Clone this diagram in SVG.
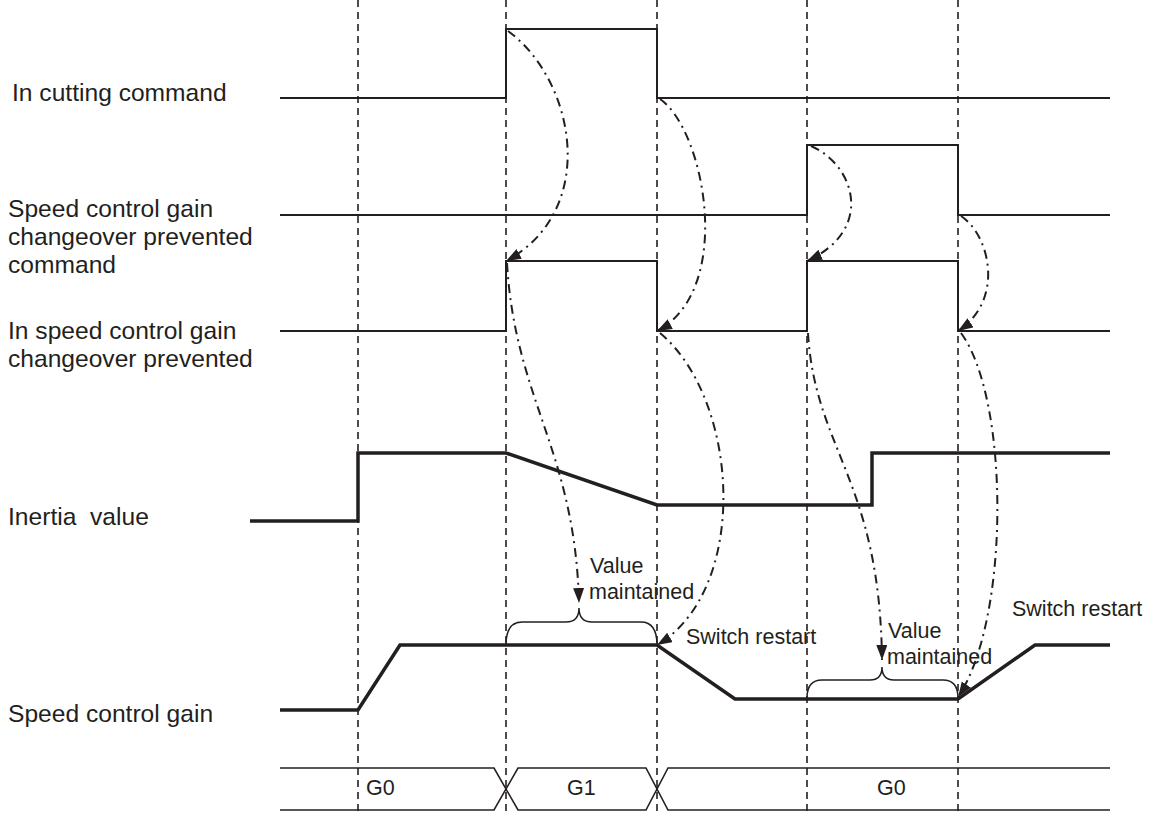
<svg xmlns="http://www.w3.org/2000/svg" width="1157" height="816" viewBox="0 0 1157 816">
<style>
.lbl{font-family:"Liberation Sans",Arial,sans-serif;font-size:24.6px;fill:#231f20}
.sm{font-family:"Liberation Sans",Arial,sans-serif;font-size:21.5px;fill:#231f20}
.grid{stroke:#231f20;stroke-width:1.6;stroke-dasharray:7 5;fill:none}
.sig{stroke:#231f20;stroke-width:2;fill:none}
.thick{stroke:#231f20;stroke-width:3.5;fill:none;stroke-linejoin:miter}
.bus{stroke:#231f20;stroke-width:1.6;fill:none}
.dd{stroke:#231f20;stroke-width:2;fill:none;stroke-dasharray:9 5 2 5}
.brace{stroke:#231f20;stroke-width:1.5;fill:none}
</style>
<defs>
<marker id="ah" markerUnits="userSpaceOnUse" markerWidth="16" markerHeight="12" refX="15" refY="5.5" orient="auto">
<path d="M0,0 L15,5.5 L0,11 z" fill="#231f20"/>
</marker>
</defs>
<g id="grid">
<line class="grid" x1="358" y1="0" x2="358" y2="816"/>
<line class="grid" x1="506" y1="0" x2="506" y2="816"/>
<line class="grid" x1="657" y1="0" x2="657" y2="816"/>
<line class="grid" x1="807" y1="0" x2="807" y2="816"/>
<line class="grid" x1="958" y1="0" x2="958" y2="816"/>
</g>
<g id="cutting">
<text class="lbl" x="12" y="101">In cutting command</text>
<path class="sig" d="M280,98 H506 V29 H657 V98 H1110"/>
</g>
<g id="prevent-cmd">
<text class="lbl" x="8" y="217">Speed control gain</text>
<text class="lbl" x="8" y="245">changeover prevented</text>
<text class="lbl" x="8" y="273">command</text>
<path class="sig" d="M280,215 H807 V145 H958 V215 H1110"/>
</g>
<g id="prevented">
<text class="lbl" x="8" y="339">In speed control gain</text>
<text class="lbl" x="8" y="367">changeover prevented</text>
<path class="sig" d="M280,331 H506 V261 H657 V331 H807 V261 H958 V331 H1110"/>
</g>
<g id="inertia">
<text class="lbl" x="8" y="525" xml:space="preserve">Inertia  value</text>
<path class="thick" d="M250,521 H358 V453 H506 L657,505 H872 V453 H1110"/>
</g>
<g id="gain">
<text class="lbl" x="8" y="722">Speed control gain</text>
<path class="thick" d="M280,710 H358 L400,645 H657 L735,699 H958 L1035,645 H1110"/>
</g>
<g id="bus">
<path class="bus" d="M280,768 H494 L518,810 H646 L668,768 H1110"/>
<path class="bus" d="M280,810 H494 L518,768 H646 L668,810 H1110"/>
<text class="sm" x="366" y="795">G0</text>
<text class="sm" x="567" y="795">G1</text>
<text class="sm" x="877" y="795">G0</text>
</g>
<g id="braces">
<path class="brace" d="M506,645 Q506,622 522,622 H566 Q579,622 579,608 Q579,622 592,622 H641 Q657,622 657,645"/>
<path class="brace" d="M807,698 Q807,680 822,680 H870 Q882,680 882,667 Q882,680 894,680 H943 Q958,680 958,698"/>
<text class="sm" x="590" y="573">Value</text>
<text class="sm" x="589" y="599">maintained</text>
<text class="sm" x="888" y="638">Value</text>
<text class="sm" x="887" y="664">maintained</text>
<text class="sm" x="686" y="644">Switch restart</text>
<text class="sm" x="1012" y="616">Switch restart</text>
</g>
<g id="connectors">
<path class="dd" marker-end="url(#ah)" d="M508,31 C575,80 600,210 506,261"/>
<path class="dd" marker-end="url(#ah)" d="M660,99 C705,130 735,290 657,331"/>
<path class="dd" marker-end="url(#ah)" d="M811,146 C855,165 875,230 807,261"/>
<path class="dd" marker-end="url(#ah)" d="M961,216 C990,235 1005,300 958,331"/>
<path class="dd" marker-end="url(#ah)" d="M507,263 C515,400 575,450 579,603"/>
<path class="dd" marker-end="url(#ah)" d="M660,333 C740,400 750,590 657,645"/>
<path class="dd" marker-end="url(#ah)" d="M808,333 C815,450 880,480 882,660"/>
<path class="dd" marker-end="url(#ah)" d="M961,333 C1010,400 1010,620 958,697"/>
</g>
</svg>
